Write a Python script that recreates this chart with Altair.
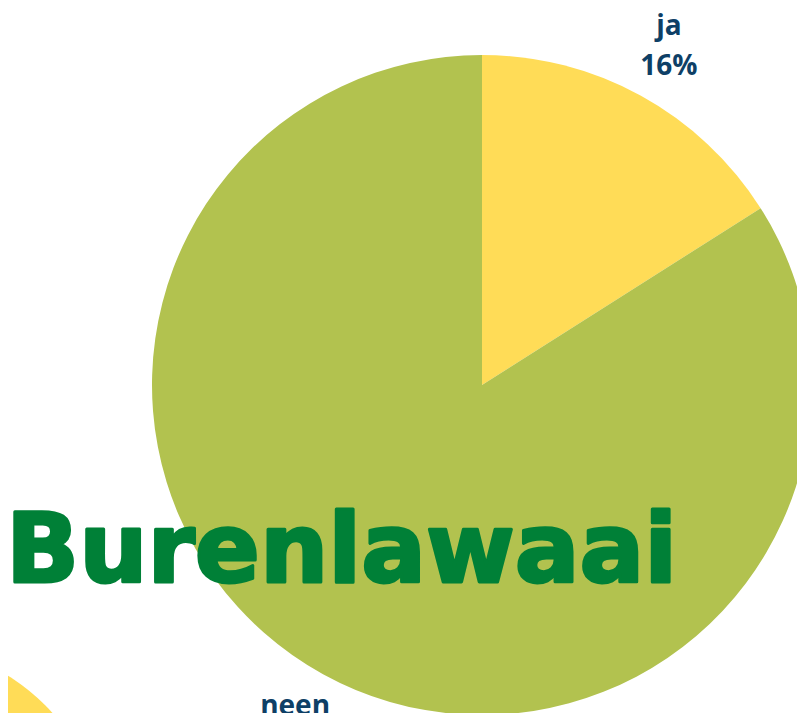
import altair as alt
import pandas as pd

categories = ["ja", "neen"]
values = [16, 84]
labels = ["ja\n16%", "neen\n84%"]
colors = ["#FFDC57", "#B2C24F"]
title_text = "Burenlawaai"

df = pd.DataFrame({"cat": categories, "val": values, "label": labels, "order": [0, 1]})

cx, cy = 474, 377
R = 330

base = alt.Chart(df).encode(
    theta=alt.Theta("val:Q", stack=True),
    order=alt.Order("order:Q"),
)

pie = base.mark_arc(radius=R, stroke=None).encode(
    color=alt.Color("cat:N", scale=alt.Scale(domain=categories, range=colors), legend=None),
    x=alt.value(cx), y=alt.value(cy),
)

txt = base.mark_text(
    radius=388, fontSize=28, fontWeight="bold", font="Open Sans", dy=-18,
    color="#0E3F66", lineBreak="\n", lineHeight=40, baseline="middle", align="center",
).encode(text="label:N", x=alt.value(cx), y=alt.value(cy))

deco = alt.Chart(pd.DataFrame({"v": [1]})).mark_arc(
    radius=205, color="#FFDC57", theta=0, theta2=6.2832
).encode(x=alt.value(-108), y=alt.value(842))

title = alt.Chart(pd.DataFrame({"t": [title_text]})).mark_text(
    font="DejaVu Sans", fontWeight="bold", fontSize=96, color="#008037",
    stroke="#008037", strokeWidth=3, strokeJoin="round",
    align="left", baseline="alphabetic",
).encode(text="t:N", x=alt.value(-2), y=alt.value(574))

chart = alt.layer(deco, pie, txt, title).properties(
    width=789, height=705, padding=0, autosize=alt.AutoSizeParams(type="none")
).configure_view(stroke=None)

chart.save("out.html", embed_options={"renderer": "svg", "actions": False})
